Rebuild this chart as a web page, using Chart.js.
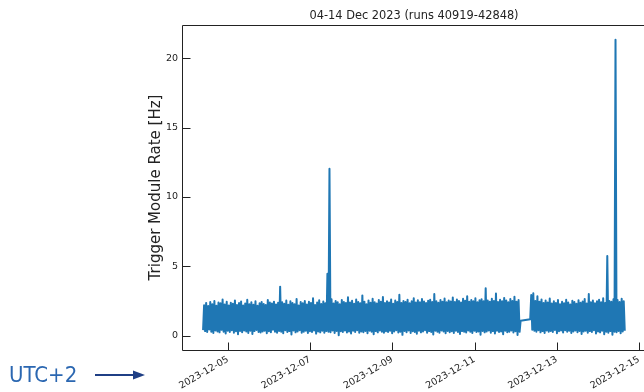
<!DOCTYPE html>
<html>
<head>
<meta charset="utf-8">
<script src="https://cdn.jsdelivr.net/npm/chart.js@4.4.1/dist/chart.umd.min.js"></script>
<style>
  html, body { margin: 0; padding: 0; background: #fff; overflow: hidden; }
  #wrap { position: relative; width: 660px; height: 392px; }
</style>
</head>
<body>
<div id="wrap"><canvas id="rateChart" width="660" height="392"></canvas></div>
<script>
// time axis in hours counted from 2023-12-04 00:00 (UTC+2)
const seg1Start = 9.5;    // first run block
const seg2Start = 200.5;  // after the 12-12 break
const stepHours = 0.6;

const rateSeg1 = [
  0.42, 2.21, 0.35, 2.38, 0.28, 2.15, 0.47, 2.44, 0.31, 2.29, 0.22, 2.52, 0.39, 2.18, 0.33, 2.41, 0.26, 2.35, 0.44, 2.63,
  0.30, 2.27, 0.18, 2.46, 0.37, 2.20, 0.29, 2.39, 0.41, 2.31, 0.24, 2.56, 0.34, 2.23, 0.12, 2.37, 0.36, 2.48, 0.27, 2.19,
  0.40, 2.34, 0.32, 2.61, 0.21, 2.28, 0.38, 2.42, 0.15, 2.25, 0.35, 2.50, 0.43, 2.17, 0.29, 2.36, 0.25, 2.45, 0.33, 2.30,
  0.38, 2.22, 0.20, 2.58, 0.34, 2.40, 0.27, 2.33, 0.45, 2.47, 0.31, 2.26, 0.23, 2.39, 0.36, 3.55, 0.30, 2.43, 0.19, 2.32,
  0.41, 2.55, 0.28, 2.24, 0.35, 2.49, 0.10, 2.37, 0.39, 2.29, 0.26, 2.66, 0.33, 2.20, 0.42, 2.44, 0.24, 2.35, 0.30, 2.52,
  0.37, 2.27, 0.21, 2.46, 0.34, 2.38, 0.29, 2.71, 0.40, 2.23, 0.17, 2.41, 0.32, 2.57, 0.26, 2.30, 0.38, 2.48, 0.23, 2.36,
  0.35, 4.47, 0.31, 12.03, 0.27, 2.64, 0.40, 2.33, 0.22, 2.51, 0.36, 2.42, 0.06, 2.28, 0.34, 2.59, 0.29, 2.45, 0.39, 2.37,
  0.25, 2.78, 0.33, 2.40, 0.18, 2.53, 0.37, 2.31, 0.28, 2.62, 0.41, 2.44, 0.24, 2.35, 0.32, 2.92, 0.27, 2.47, 0.36, 2.29,
  0.20, 2.56, 0.38, 2.39, 0.30, 2.68, 0.13, 2.43, 0.35, 2.34, 0.26, 2.58, 0.40, 2.46, 0.31, 2.81, 0.23, 2.37, 0.34, 2.50,
  0.28, 2.41, 0.37, 2.63, 0.19, 2.32, 0.33, 2.55, 0.42, 2.44, 0.25, 2.97, 0.30, 2.38, 0.08, 2.52, 0.36, 2.45, 0.27, 2.60,
  0.39, 2.35, 0.22, 2.49, 0.34, 2.72, 0.29, 2.40, 0.16, 2.57, 0.38, 2.43, 0.26, 2.66, 0.32, 2.48, 0.41, 2.37, 0.24, 2.54,
  0.35, 2.61, 0.28, 2.45, 0.11, 3.02, 0.37, 2.50, 0.30, 2.39, 0.23, 2.58, 0.40, 2.47, 0.33, 2.69, 0.19, 2.42, 0.36, 2.55,
  0.27, 2.48, 0.34, 2.76, 0.21, 2.44, 0.38, 2.62, 0.29, 2.51, 0.14, 2.40, 0.35, 2.67, 0.31, 2.53, 0.25, 2.86, 0.39, 2.46,
  0.30, 2.59, 0.22, 2.49, 0.37, 2.71, 0.28, 2.43, 0.33, 2.57, 0.09, 2.64, 0.36, 2.50, 0.26, 3.43, 0.32, 2.55, 0.40, 2.47,
  0.24, 2.68, 0.35, 2.52, 0.18, 3.05, 0.38, 2.45, 0.29, 2.61, 0.33, 2.49, 0.12, 2.74, 0.37, 2.56, 0.27, 2.43, 0.31, 2.66,
  0.39, 2.51, 0.25, 2.82, 0.34, 2.47, 0.07, 2.58, 0.30, 1.10
];

const rateSeg2 = [
  1.20,
  2.95, 0.45, 3.08, 0.38, 2.52, 0.30, 2.86, 0.41, 2.47, 0.26, 2.63, 0.35, 2.38, 0.22, 2.55, 0.40, 2.41, 0.31, 2.69, 0.36,
  2.33, 0.28, 2.50, 0.43, 2.37, 0.19, 2.58, 0.34, 2.29, 0.39, 2.46, 0.25, 2.35, 0.42, 2.61, 0.30, 2.40, 0.37, 2.27, 0.21,
  2.53, 0.33, 2.44, 0.40, 2.31, 0.27, 2.57, 0.36, 2.39, 0.15, 2.48, 0.32, 2.66, 0.38, 2.34, 0.24, 3.02, 0.35, 2.42, 0.29,
  2.55, 0.41, 2.36, 0.18, 2.49, 0.33, 2.60, 0.26, 2.43, 0.37, 2.71, 0.12, 2.38, 0.30, 5.76, 0.23, 2.52, 0.35, 2.46, 0.09,
  2.64, 0.31, 21.32, 0.27, 2.58, 0.36, 2.44, 0.20, 2.67, 0.33, 2.49, 0.38
];

const xTickHours = [24, 72, 120, 168, 216, 264];
const xTickLabels = ['2023-12-05', '2023-12-07', '2023-12-09', '2023-12-11', '2023-12-13', '2023-12-15'];
const yTickValues = [0, 5, 10, 15, 20];

function toPoints(start, values) {
  return values.map((v, i) => ({ x: start + i * stepHours, y: v }));
}
const points = toPoints(seg1Start, rateSeg1).concat(toPoints(seg2Start, rateSeg2));

const ink = '#222';

// spines, inward tick marks and the time-zone note
const frameTicks = {
  id: 'frameTicks',
  afterDatasetsDraw(chart) {
    const { ctx, chartArea: a, scales: { x, y } } = chart;
    const left = Math.round(a.left) + 0.5;
    const top = Math.round(a.top) + 0.5;
    const bottom = Math.round(a.bottom) + 0.5;
    ctx.save();
    ctx.strokeStyle = ink;
    ctx.lineWidth = 1;
    ctx.beginPath();
    ctx.moveTo(a.right + 20, top);
    ctx.lineTo(left, top);
    ctx.lineTo(left, bottom);
    ctx.lineTo(a.right + 20, bottom);
    xTickHours.forEach(h => {
      const px = Math.round(x.getPixelForValue(h)) + 0.5;
      ctx.moveTo(px, bottom);
      ctx.lineTo(px, bottom - 8);
    });
    yTickValues.forEach(v => {
      const py = Math.round(y.getPixelForValue(v)) + 0.5;
      ctx.moveTo(left, py);
      ctx.lineTo(left + 8, py);
    });
    ctx.stroke();

    ctx.fillStyle = '#2b67b1';
    ctx.font = '22px "Liberation Sans Narrow", "DejaVu Sans Condensed", sans-serif';
    ctx.textBaseline = 'alphabetic';
    ctx.textAlign = 'left';
    ctx.fillText('UTC+2', 9, 382);

    ctx.strokeStyle = '#1f3f85';
    ctx.fillStyle = '#1f3f85';
    ctx.lineWidth = 2;
    ctx.beginPath();
    ctx.moveTo(95, 375);
    ctx.lineTo(135, 375);
    ctx.stroke();
    ctx.beginPath();
    ctx.moveTo(133, 370.5);
    ctx.lineTo(145, 375);
    ctx.lineTo(133, 379.5);
    ctx.closePath();
    ctx.fill();
    ctx.restore();
  }
};

new Chart(document.getElementById('rateChart'), {
  type: 'line',
  data: {
    datasets: [{
      data: points,
      borderColor: '#1f77b4',
      borderWidth: 2,
      borderJoinStyle: 'round',
      pointRadius: 0,
      tension: 0,
      fill: false
    }]
  },
  options: {
    responsive: false,
    animation: false,
    events: [],
    layout: { padding: { left: 147, right: 14, top: 0, bottom: 0 } },
    plugins: {
      legend: { display: false },
      tooltip: { enabled: false },
      title: {
        display: true,
        text: '04-14 Dec 2023 (runs 40919-42848)',
        fullSize: false,
        color: ink,
        font: { family: 'DejaVu Sans', size: 11.4, weight: 'normal' },
        padding: { top: 9.2, bottom: 2.1 }
      }
    },
    scales: {
      x: {
        type: 'linear',
        min: -2.8,
        max: 268.1,
        grid: { display: false, drawTicks: false },
        border: { display: false },
        afterBuildTicks: s => { s.ticks = xTickHours.map(v => ({ value: v })); },
        afterFit: s => { s.height = 42; },
        ticks: {
          autoSkip: false,
          minRotation: 30,
          maxRotation: 30,
          padding: 4,
          color: ink,
          font: { family: 'DejaVu Sans', size: 9.5 },
          callback: (v, i) => xTickLabels[i]
        }
      },
      y: {
        type: 'linear',
        min: -1.01,
        max: 22.38,
        grid: { display: false, drawTicks: false },
        border: { display: false },
        afterBuildTicks: s => { s.ticks = yTickValues.map(v => ({ value: v })); },
        afterFit: s => { s.width = 35; },
        title: {
          display: true,
          text: 'Trigger Module Rate [Hz]',
          color: ink,
          font: { family: 'DejaVu Sans', size: 15 },
          padding: 0
        },
        ticks: {
          padding: 4,
          color: ink,
          font: { family: 'DejaVu Sans', size: 9.5 }
        }
      }
    }
  },
  plugins: [frameTicks]
});
</script>
</body>
</html>
